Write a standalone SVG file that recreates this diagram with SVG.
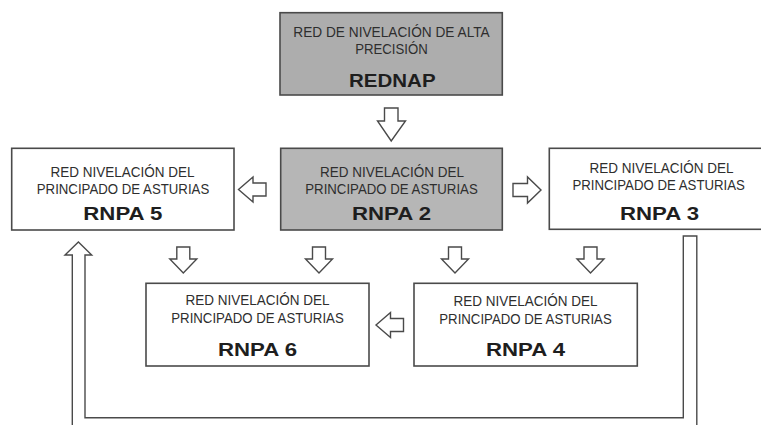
<svg xmlns="http://www.w3.org/2000/svg" xmlns:xlink="http://www.w3.org/1999/xlink" width="761" height="425" viewBox="0 0 761 425">
<style>
.box{stroke:#4a4a4a;stroke-width:1.6;fill:#ffffff}
.gray1{fill:#adadad}
.gray2{fill:#b6b6b6}
.t{font-family:"Liberation Sans",Arial,sans-serif;font-size:15px;fill:#2e2e2e;text-anchor:middle}
.b{font-family:"Liberation Sans",Arial,sans-serif;font-size:18.5px;font-weight:bold;fill:#1e1e1e;text-anchor:middle}
.arr{fill:#ffffff;stroke:#4a4a4a;stroke-width:1.4;stroke-linejoin:miter}
</style>
<defs>
<path id="down" d="M-6.5,0 H6.5 V12 H13.5 L0,26 L-13.5,12 H-6.5 Z"/>
<path id="left" d="M0,0 L14.5,-12.5 V-6.5 H27.5 V6.5 H14.5 V12.5 Z"/>
<path id="right" d="M0,0 L-13.5,-13 V-6.5 H-28 V6.5 H-13.5 V13 Z"/>
</defs>
<rect width="761" height="425" fill="#ffffff"/>
<g id="connectors">
<path class="arr" d="M384.5,108 H398 V121 H405.5 L391.2,141 L377.5,121 H384.5 Z"/>
<use href="#left" class="arr" x="238.5" y="189.5"/>
<use href="#right" class="arr" x="541" y="190"/>
<use href="#down" class="arr" x="183.3" y="247"/>
<use href="#down" class="arr" x="319" y="247"/>
<use href="#down" class="arr" x="455" y="247"/>
<use href="#down" class="arr" x="590.5" y="247"/>
<use href="#left" class="arr" x="376" y="325"/>
<path class="arr" d="M72.3,432 V255 H65 L78.4,242 L91.7,255 H85 V417.8 H683.3 V236 H696.8 V432"/>
</g>
<g id="rednap">
<rect class="box gray1" x="280" y="12.7" width="222.3" height="82.3"/>
<text class="t" x="391.5" y="36.7" textLength="196.5" lengthAdjust="spacingAndGlyphs">RED DE NIVELACIÓN DE ALTA</text>
<text class="t" x="391.5" y="54" textLength="72.5" lengthAdjust="spacingAndGlyphs">PRECISIÓN</text>
<text class="b" x="392.3" y="87" textLength="86.5" lengthAdjust="spacingAndGlyphs">REDNAP</text>
</g>
<g id="rnpa5">
<rect class="box" x="11.7" y="148.3" width="222.3" height="81.7"/>
<text class="t" x="122.5" y="177.3" textLength="144" lengthAdjust="spacingAndGlyphs">RED NIVELACIÓN DEL</text>
<text class="t" x="123" y="194.3" textLength="172.5" lengthAdjust="spacingAndGlyphs">PRINCIPADO DE ASTURIAS</text>
<text class="b" x="122.8" y="220" textLength="79" lengthAdjust="spacingAndGlyphs">RNPA 5</text>
</g>
<g id="rnpa2">
<rect class="box gray2" x="280.7" y="148.3" width="221.6" height="81.7"/>
<text class="t" x="392" y="177.3" textLength="144" lengthAdjust="spacingAndGlyphs">RED NIVELACIÓN DEL</text>
<text class="t" x="391.5" y="194.3" textLength="172.5" lengthAdjust="spacingAndGlyphs">PRINCIPADO DE ASTURIAS</text>
<text class="b" x="391.5" y="220" textLength="79" lengthAdjust="spacingAndGlyphs">RNPA 2</text>
</g>
<g id="rnpa3">
<rect class="box" x="549.3" y="148.3" width="230" height="81"/>
<text class="t" x="661.5" y="172.7" textLength="144" lengthAdjust="spacingAndGlyphs">RED NIVELACIÓN DEL</text>
<text class="t" x="658.7" y="190" textLength="172.5" lengthAdjust="spacingAndGlyphs">PRINCIPADO DE ASTURIAS</text>
<text class="b" x="659.5" y="220" textLength="79" lengthAdjust="spacingAndGlyphs">RNPA 3</text>
</g>
<g id="rnpa6">
<rect class="box" x="146" y="283.3" width="223" height="82.7"/>
<text class="t" x="257.5" y="305.3" textLength="144" lengthAdjust="spacingAndGlyphs">RED NIVELACIÓN DEL</text>
<text class="t" x="257.5" y="323.3" textLength="172.5" lengthAdjust="spacingAndGlyphs">PRINCIPADO DE ASTURIAS</text>
<text class="b" x="257.5" y="356" textLength="79" lengthAdjust="spacingAndGlyphs">RNPA 6</text>
</g>
<g id="rnpa4">
<rect class="box" x="414" y="283.3" width="223.3" height="82.7"/>
<text class="t" x="525.5" y="306" textLength="144" lengthAdjust="spacingAndGlyphs">RED NIVELACIÓN DEL</text>
<text class="t" x="525.5" y="324" textLength="172.5" lengthAdjust="spacingAndGlyphs">PRINCIPADO DE ASTURIAS</text>
<text class="b" x="525.5" y="356" textLength="79" lengthAdjust="spacingAndGlyphs">RNPA 4</text>
</g>
</svg>
